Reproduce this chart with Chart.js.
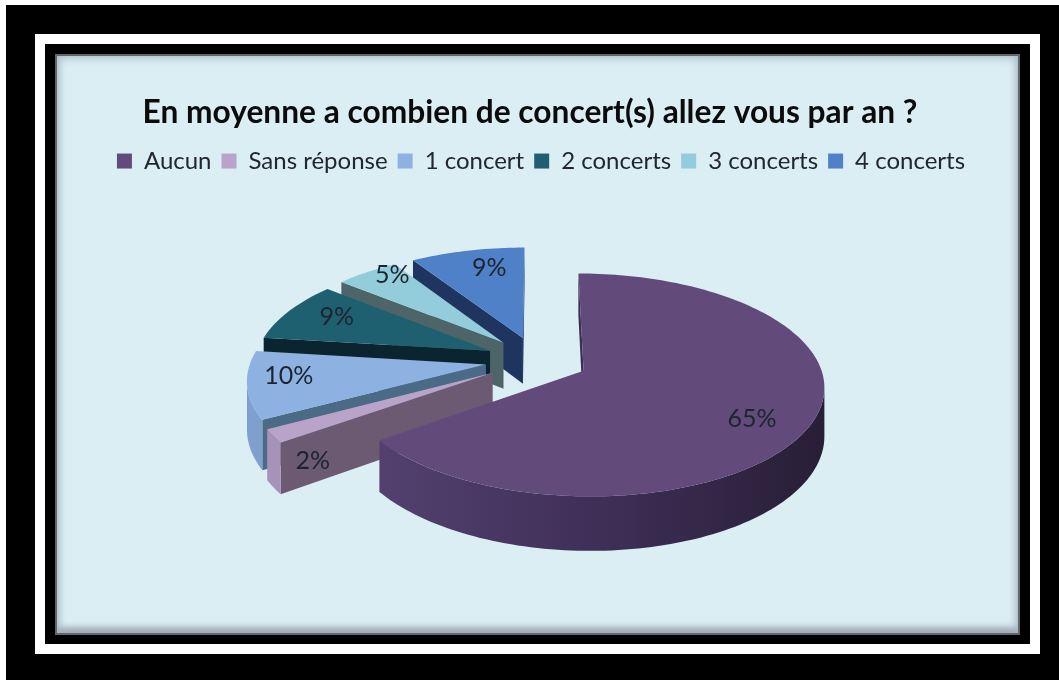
<!DOCTYPE html>
<html>
<head>
<meta charset="utf-8">
<title>Concerts</title>
<script src="https://cdn.jsdelivr.net/npm/chart.js@4"></script>
<style>
html, body { margin: 0; height: 100%; overflow: hidden; background: #000; }
#edge { position: absolute; left: 0; top: 0; width: 1059px; height: 680px; box-sizing: border-box; border-left: 6px solid #fff; border-top: 5px solid #fff; }
#mat { position: absolute; left: 35px; top: 34px; width: 985px; height: 600px; border: 10px solid #fff; background: #000; }
#panel { position: absolute; left: 55px; top: 54px; width: 965px; height: 581px; background: #dbeef4;
    box-shadow: inset 0 0 0 2px #66666a, inset 0 0 9px 4px #a9bcc4, inset 0 -7px 8px -2px #7d7788; }
#chart { position: absolute; left: 55px; top: 54px; }
</style>
</head>
<body>
<div id="edge"></div>
<div id="mat"></div>
<div id="panel"></div>
<canvas id="chart" width="950" height="581"></canvas>
<script>
var titleText = "En moyenne a combien de concert(s) allez vous par an ?";
var categories = ["Aucun", "Sans réponse", "1 concert", "2 concerts", "3 concerts", "4 concerts"];
var percentages = [65, 2, 10, 9, 5, 9];

var topColors = ["#624a7b", "#b9a3c9", "#8db1e1", "#1f6070", "#93cddb", "#4f81c9"];
var wallColors = ["#3d2e55", "#6b5a72", "#4a6a85", "#0a2530", "#4d6468", "#1f3560"];
var rimColors = [["#53406f", "#3e2f57", "#281e36"], ["#a893b8", "#a893b8", "#a893b8"], ["#7fa0cc", "#7fa0cc", "#7fa0cc"],
    ["#0a2530", "#0a2530", "#0a2530"], ["#4d6468", "#4d6468", "#4d6468"], ["#1f3560", "#1f3560", "#1f3560"]];

// where each percentage sits: fraction of the radius, then a small pixel nudge
var labelRadius = [0.78, 0.87, 0.87, 0.83, 0.95, 0.82];
var labelNudge = [[-7, 7], [9, 34], [10, -6], [15, -1], [19, -1], [13, 3]];

var squash = 0.455;     // tilt of the disc
var persp = 0.125;      // back of the disc shrinks, front grows
var explode = 0.22;     // slices pulled out, as a share of the radius
var depth = 47;         // thickness of the disc
var discShift = 7;      // disc sits a little right of the title's centre
var legendShift = 11;

function projector(el) {
    var r = el.outerRadius;
    return function (u, v, h) {
        var s = 1 / (1 - persp * v);
        return [el.x + discShift + r * u * s, el.y + r * squash * v * s + h * s];
    };
}

function fillPoly(ctx, pts, color) {
    ctx.beginPath();
    pts.forEach(function (s, n) {
        if (n === 0) ctx.moveTo(s[0], s[1]); else ctx.lineTo(s[0], s[1]);
    });
    ctx.closePath();
    ctx.fillStyle = color;
    ctx.fill();
}

function drawSlice(ctx, el, i) {
    var project = projector(el);
    var mid = (el.startAngle + el.endAngle) / 2;
    var du = explode * Math.cos(mid);
    var dv = explode * Math.sin(mid);
    var steps = Math.max(6, Math.ceil((el.endAngle - el.startAngle) * 40));
    var outline = [[du, dv]];
    for (var k = 0; k <= steps; k++) {
        var a = el.startAngle + (el.endAngle - el.startAngle) * k / steps;
        outline.push([du + Math.cos(a), dv + Math.sin(a)]);
    }
    var top = outline.map(function (p) { return project(p[0], p[1], 0); });
    var low = outline.map(function (p) { return project(p[0], p[1], depth); });
    var last = outline.length - 1;

    // the two straight walls, only edges running right to left face the viewer
    if (top[1][0] < top[0][0]) fillPoly(ctx, [top[0], top[1], low[1], low[0]], wallColors[i]);
    if (top[0][0] < top[last][0]) fillPoly(ctx, [top[last], top[0], low[0], low[last]], wallColors[i]);

    // curved rim as one polygon over its visible run
    var upper = [];
    var lower = [];
    for (var n = 1; n < last; n++) {
        if (top[n + 1][0] < top[n][0]) {
            if (!upper.length) { upper.push(top[n]); lower.push(low[n]); }
            upper.push(top[n + 1]);
            lower.push(low[n + 1]);
        }
    }
    if (upper.length) {
        var xs = top.map(function (p) { return p[0]; });
        var rim = ctx.createLinearGradient(Math.min.apply(null, xs), 0, Math.max.apply(null, xs), 0);
        rim.addColorStop(0, rimColors[i][0]);
        rim.addColorStop(0.5, rimColors[i][1]);
        rim.addColorStop(1, rimColors[i][2]);
        fillPoly(ctx, upper.concat(lower.reverse()), rim);
    }

    fillPoly(ctx, top, topColors[i]);
}

var tiltedPie = {
    id: "tiltedPie",
    afterLayout: function (chart) {
        chart.legend.left += legendShift;
        chart.legend.right += legendShift;
    },
    beforeDatasetDraw: function () {
        return false;
    },
    afterDatasetsDraw: function (chart) {
        var ctx = chart.ctx;
        var arcs = chart.getDatasetMeta(0).data;
        ctx.save();
        // back slices first, the big one last
        for (var i = arcs.length - 1; i >= 0; i--) {
            drawSlice(ctx, arcs[i], i);
        }
        ctx.font = "25px Lato";
        ctx.fillStyle = "#1d2430";
        ctx.textAlign = "center";
        ctx.textBaseline = "middle";
        arcs.forEach(function (el, i) {
            var mid = (el.startAngle + el.endAngle) / 2;
            var u = (explode + labelRadius[i]) * Math.cos(mid);
            var v = (explode + labelRadius[i]) * Math.sin(mid);
            var pos = projector(el)(u, v, 0);
            ctx.fillText(percentages[i] + "%", pos[0] + labelNudge[i][0], pos[1] + labelNudge[i][1]);
        });
        ctx.restore();
    }
};

new Chart("chart", {
    type: "pie",
    data: {
        labels: categories,
        datasets: [{
            data: percentages,
            backgroundColor: topColors,
            borderWidth: 0,
            radius: 235
        }]
    },
    plugins: [tiltedPie],
    options: {
        responsive: false,
        animation: false,
        layout: {
            padding: { top: 0, bottom: 98 }
        },
        plugins: {
            tooltip: { enabled: false },
            title: {
                display: true,
                text: titleText,
                color: "#0c0c0c",
                font: { family: "Lato", size: 31.7, weight: "bold" },
                padding: { top: 40, bottom: 7 }
            },
            legend: {
                display: true,
                position: "top",
                labels: {
                    color: "#22262e",
                    font: { family: "Lato", size: 24 },
                    boxWidth: 15,
                    boxHeight: 15,
                    padding: 10
                }
            }
        }
    }
});
</script>
</body>
</html>
